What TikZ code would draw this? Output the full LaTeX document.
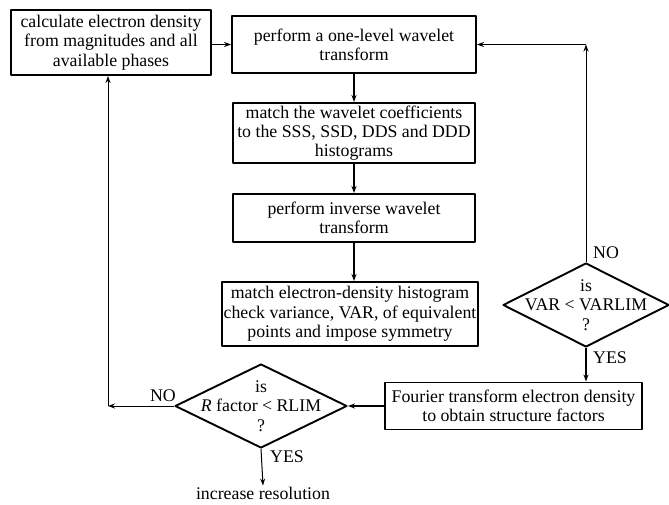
\documentclass[tikz,border=0pt]{standalone}
\usepackage{fontspec}
\setmainfont{Liberation Serif}
\usetikzlibrary{shapes.geometric,arrows.meta}

\begin{document}
\begin{tikzpicture}[x=1pt,y=-1pt,line join=round,>={Stealth[length=7pt,width=5pt]},
	font=\fontsize{17.8}{19.3}\selectfont]
	\tikzset{box/.style={draw,line width=1.9pt,align=center,inner sep=0pt},
		decision/.style={draw,diamond,line width=1.9pt,inner sep=0pt,minimum width=166pt,minimum height=84pt},
		dtext/.style={align=center,inner sep=0pt},
		flow/.style={->,line width=1.8pt},
		back/.style={->,line width=1pt}}
	\useasboundingbox (0,0) rectangle (669,505);
	% boxes
	\node[box,minimum width=200pt,minimum height=65pt] (calc) at (111,42.5) {calculate electron density\\from magnitudes and all\\available phases};
	\node[box,minimum width=244pt,minimum height=57pt] (wave) at (354,44.5) {perform a one-level wavelet\\transform};
	\node[box,minimum width=242pt,minimum height=60pt] (coef) at (354,133) {match the wavelet coefficients\\to the SSS, SSD, DDS and DDD\\histograms};
	\node[box,minimum width=242pt,minimum height=48pt] (inverse) at (354,218) {perform inverse wavelet\\transform};
	\node[box,minimum width=256pt,minimum height=64pt] (hist) at (350,314) {match electron-density histogram\\check variance, VAR, of equivalent\\points and impose symmetry};
	\node[box,minimum width=257pt,minimum height=47pt] (fourier) at (513.5,406) {Fourier transform electron density\\to obtain structure factors};
	% decisions
	\node[decision] (var) at (586,305) {};
	\node[dtext] (vartext) at (var) {is\\VAR < VARLIM\\?};
	\node[decision,minimum width=172pt] (rfac) at (261,406) {};
	\node[dtext] (rfactext) at (rfac) {is\\\textit{R} factor < RLIM\\?};
	\node[inner sep=1pt] (incr) at (263,493) {increase resolution};
	% labels
	\node (no1) at (163,396) {NO};
	\node (yes1) at (287,457) {YES};
	\node (no2) at (606,253) {NO};
	\node (yes2) at (610,358) {YES};
	% connectors
	\coordinate (lcorner) at (rfac.west -| 108,0);
	\coordinate (rcorner) at (var.north |- wave.east);
	\draw[flow] (calc.east |- wave.east) -- (wave.east -| wave.west);
	\draw[flow] (wave) -- (coef);
	\draw[flow] (coef) -- (inverse);
	\draw[flow] (inverse.south) -- (inverse.south |- hist.north);
	\draw[flow] (var.south) -- (var.south |- fourier.north);
	\draw[flow] (fourier.west) -- (rfac.east);
	\draw[back] (rfac.west) -- (lcorner);
	\draw[back] (lcorner) -- (lcorner |- calc.south);
	\draw[back] (var.north) -- (rcorner);
	\draw[flow] (rcorner) -- (wave.east);
	\draw[back] (rfac.south) -- (incr.north);
\end{tikzpicture}
\end{document}
